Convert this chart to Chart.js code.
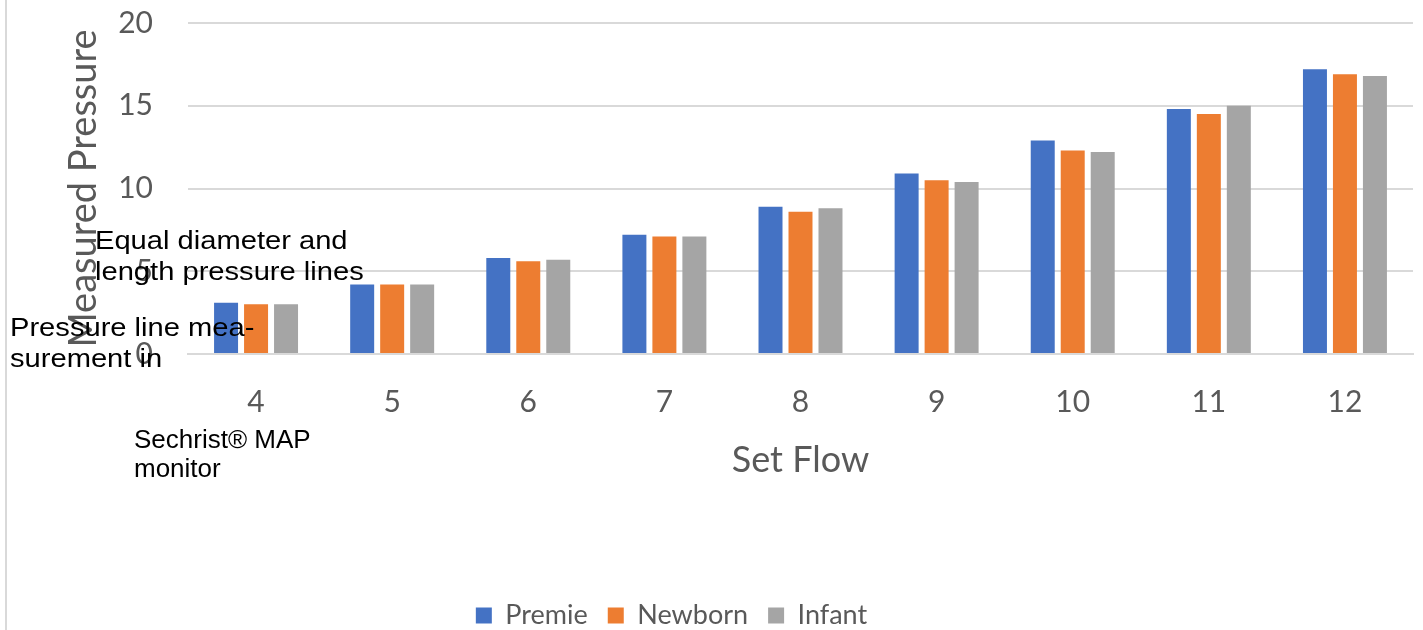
<!DOCTYPE html>
<html>
<head>
<meta charset="utf-8">
<script src="https://cdn.jsdelivr.net/npm/chart.js@4/dist/chart.umd.min.js"></script>
<style>
  html, body { margin: 0; padding: 0; background: #fff; }
  #wrap { position: relative; width: 1423px; height: 630px; }
  #frame { position: absolute; left: 5px; top: 0; width: 0; height: 630px; border-left: 2px solid #d9d9d9; }
  .note { position: absolute; font-family: "Liberation Sans", Arial, sans-serif; font-size: 26px; line-height: 31px; color: #000; white-space: nowrap; }
  .wide { transform: scaleX(1.12); transform-origin: 0 0; }
</style>
</head>
<body>
<div id="wrap">
  <canvas id="chart" width="1423" height="630"></canvas>
  <div id="frame"></div>
  <div class="note wide" style="left:95px; top:225px;">Equal diameter and<br>length pressure lines</div>
  <div class="note wide" style="left:10px; top:312px;">Pressure line mea-<br>surement in</div>
  <div class="note" style="left:134px; top:425px; line-height:29px;">Sechrist® MAP<br>monitor</div>
</div>
<script>
const flows = ['4', '5', '6', '7', '8', '9', '10', '11', '12'];
const premie = [3.1, 4.2, 5.8, 7.2, 8.9, 10.9, 12.9, 14.8, 17.2];
const newborn = [3.0, 4.2, 5.6, 7.1, 8.6, 10.5, 12.3, 14.5, 16.9];
const infant = [3.0, 4.2, 5.7, 7.1, 8.8, 10.4, 12.2, 15.0, 16.8];
const yTicks = [0, 5, 10, 15, 20];

const grey = '#595959';
const font = 'Lato';

// Excel centres the legend a bit left of the full width
const legendShift = {
  id: 'legendShift',
  afterLayout(chart) {
    if (chart.legend) chart.legend.right = chart.legend.left + 1343;
  }
};

const ctx = document.getElementById('chart');
new Chart(ctx, {
  type: 'bar',
  data: {
    labels: flows,
    datasets: [
      { label: 'Premie', data: premie, backgroundColor: '#4472c4' },
      { label: 'Newborn', data: newborn, backgroundColor: '#ed7d31' },
      { label: 'Infant', data: infant, backgroundColor: '#a5a5a5' }
    ]
  },
  options: {
    responsive: false,
    animation: false,
    devicePixelRatio: 1,
    categoryPercentage: 0.661,
    barPercentage: 0.8,
    layout: { padding: { left: 0, top: 23, right: 10, bottom: -9 } },
    scales: {
      x: {
        grid: { display: false, drawTicks: false },
        border: { display: true, color: '#d9d9d9', width: 2 },
        ticks: { color: grey, font: { family: font, size: 30 }, padding: 30 },
        title: {
          display: true, text: 'Set Flow', color: grey,
          font: { family: font, size: 36 }, padding: { top: 0, bottom: 100 }
        },
        afterFit: (scale) => { scale.height = 228; }
      },
      y: {
        min: 0, max: 20,
        afterBuildTicks: (scale) => { scale.ticks = yTicks.map((v) => ({ value: v })); },
        grid: { color: '#d9d9d9', lineWidth: 2, drawTicks: false },
        border: { display: false },
        ticks: { color: grey, font: { family: font, size: 30 }, padding: 35 },
        title: {
          display: true, text: 'Measured Pressure', color: grey,
          font: { family: font, size: 38 }, padding: { top: 61, bottom: 0 }
        },
        afterFit: (scale) => {
          scale.width = 188;
          // tick padding is meant for the gap to the plot, not top/bottom room
          scale.paddingTop = 0;
          scale.paddingBottom = 0;
        }
      }
    },
    plugins: {
      legend: {
        position: 'bottom',
        labels: {
          color: grey, font: { family: font, size: 27 },
          boxWidth: 16, boxHeight: 16, padding: 20
        }
      },
      tooltip: { enabled: false }
    }
  },
  plugins: [legendShift]
});
</script>
</body>
</html>
